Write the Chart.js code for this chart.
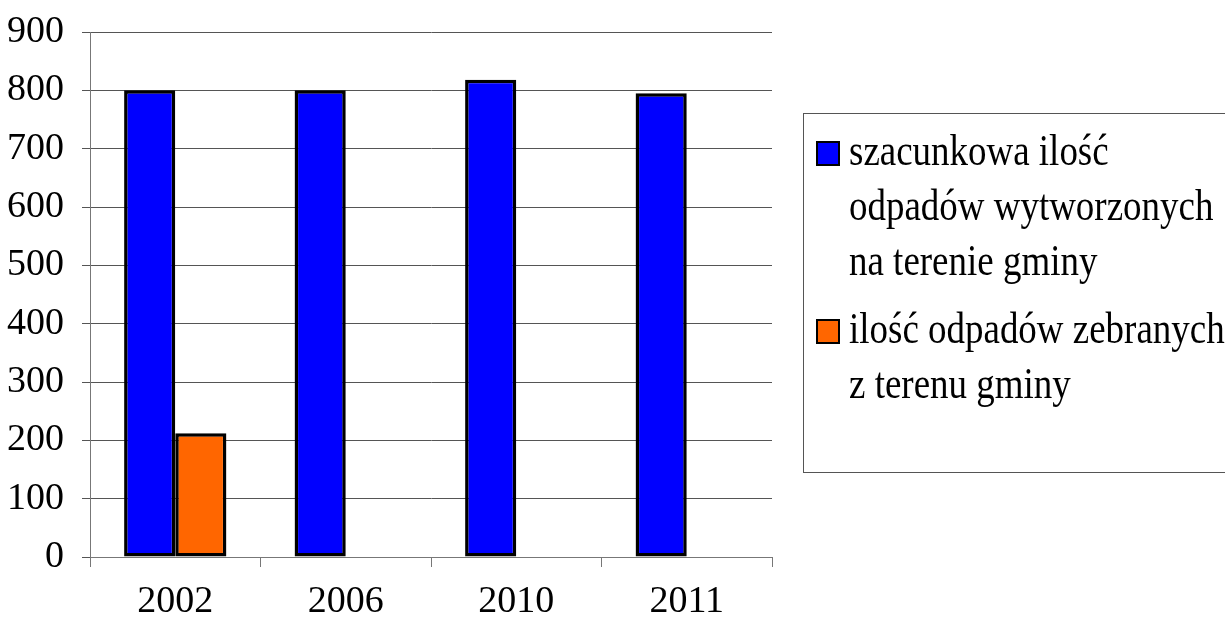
<!DOCTYPE html>
<html>
<head>
<meta charset="utf-8">
<script src="https://cdn.jsdelivr.net/npm/chart.js@4"></script>
<style>
  html, body { margin: 0; padding: 0; background: #fff; overflow: hidden; }
  #wrap { position: relative; width: 1225px; height: 638px; }
  #legend {
    position: absolute; left: 803px; top: 113px; width: 440px; height: 360px;
    border: 1px solid #555; box-sizing: border-box;
    font-family: "Liberation Serif", "Times New Roman", serif;
  }
  .item { position: absolute; left: 12px; }
  .box { position: absolute; left: 0; width: 20px; height: 21px; border: 2px solid #000; }
  .txt {
    position: absolute; left: 33px; font-size: 44px; line-height: 55px;
    white-space: nowrap; transform: scaleX(0.84); transform-origin: left top; color: #000;
  }
</style>
</head>
<body>
<div id="wrap">
  <canvas id="chart" width="1225" height="638"></canvas>
  <div id="legend"></div>
</div>
<script>
// data
const years = ['2002', '2006', '2010', '2011'];
const estimated = [800, 800, 818, 795];
const collected = [212, null, null, null];
const seriesNames = [
    ['szacunkowa ilość', 'odpadów wytworzonych', 'na terenie gminy'],
    ['ilość odpadów zebranych', 'z terenu gminy']
];
const seriesColors = ['#0000ff', '#ff6600'];

const ctx = document.getElementById('chart').getContext('2d');
const chart = new Chart(ctx, {
    type: 'bar',
    data: {
        labels: years,
        datasets: [
            { label: seriesNames[0], data: estimated, backgroundColor: seriesColors[0] },
            { label: seriesNames[1], data: collected, backgroundColor: seriesColors[1] }
        ]
    },
    options: {
        responsive: false,
        animation: false,
        layout: { padding: { top: 32, right: 453, left: 0, bottom: 0 } },
        datasets: {
            bar: {
                categoryPercentage: 0.6,
                barPercentage: 1.0,
                borderColor: '#000',
                borderWidth: 3.5,
                borderSkipped: false
            }
        },
        plugins: { legend: { display: false }, tooltip: { enabled: false } },
        scales: {
            x: {
                grid: { offset: true, drawOnChartArea: false, drawTicks: true, tickLength: 10, color: '#777' },
                border: { color: '#777', width: 1 },
                ticks: {
                    color: '#000', padding: 12,
                    font: { family: 'Liberation Serif', size: 38 }
                },
                afterFit: s => { s.height = 81; }
            },
            y: {
                min: 0, max: 900,
                grid: { color: '#555', tickLength: 8 },
                border: { color: '#777', width: 1 },
                ticks: {
                    stepSize: 100, color: '#000', padding: 18,
                    // small lineHeight keeps the top label from pushing the plot down
                    font: { family: 'Liberation Serif', size: 38, lineHeight: 0.6 }
                },
                afterFit: s => { s.width = 90; }
            }
        }
    }
});

// legend in html so the lines wrap like the original
const legendBox = document.getElementById('legend');
let itemTop = 9;
chart.data.datasets.forEach((ds, i) => {
    const item = document.createElement('div');
    item.className = 'item';
    item.style.top = itemTop + 'px';
    const box = document.createElement('div');
    box.className = 'box';
    box.style.background = ds.backgroundColor;
    box.style.top = '18px';
    const txt = document.createElement('div');
    txt.className = 'txt';
    txt.innerHTML = ds.label.join('<br>');
    item.appendChild(box);
    item.appendChild(txt);
    legendBox.appendChild(item);
    itemTop += ds.label.length * 55 + 13;
});
</script>
</body>
</html>
